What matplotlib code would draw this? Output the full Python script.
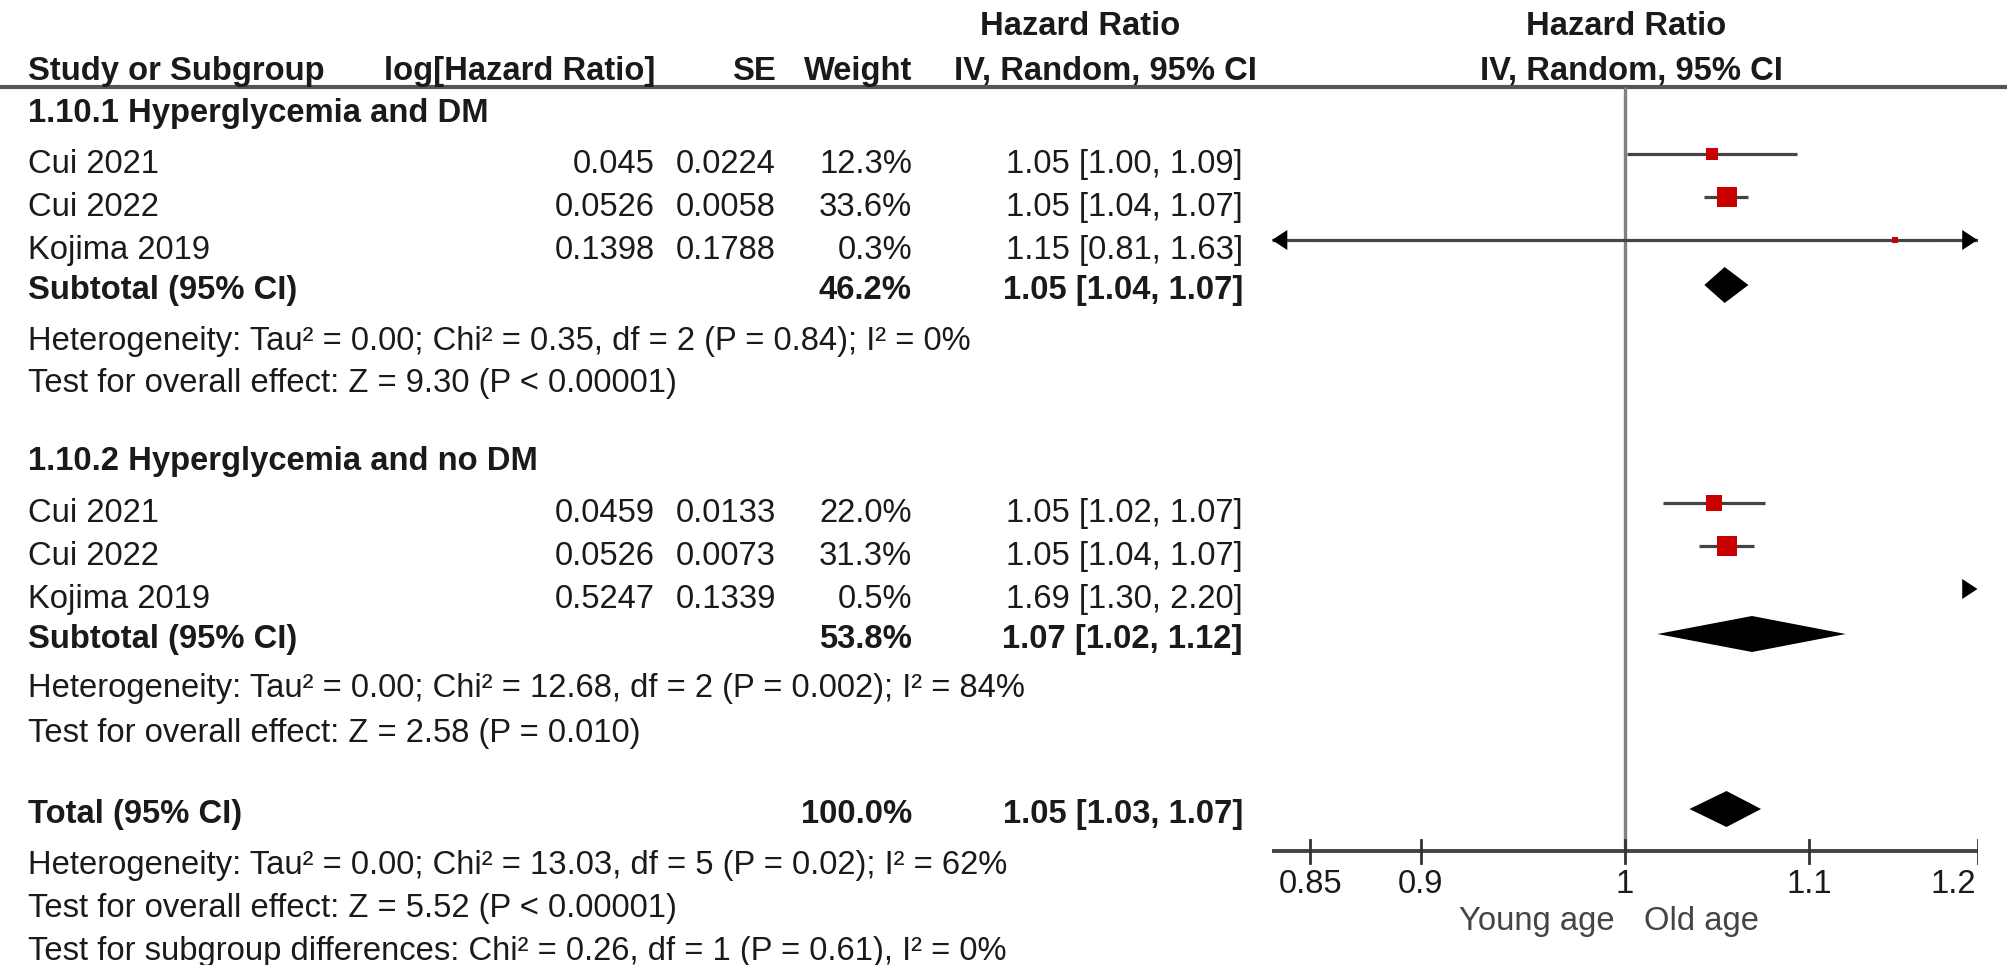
import matplotlib
matplotlib.use("Agg")
import matplotlib.pyplot as plt

plt.rcParams['font.family'] = ['Liberation Sans', 'DejaVu Sans']

# ---------------- data ----------------
group_titles = ["1.10.1 Hyperglycemia and DM", "1.10.2 Hyperglycemia and no DM"]

g1_studies = ["Cui 2021", "Cui 2022", "Kojima 2019"]
g1_loghr = [0.045, 0.0526, 0.1398]
g1_se = [0.0224, 0.0058, 0.1788]
g1_weight = [12.3, 33.6, 0.3]
g1_hr = [1.046, 1.054, 1.150]
g1_lo = [1.001, 1.042, 0.810]
g1_hi = [1.093, 1.066, 1.633]
g1_sub = (46.2, 1.053, 1.042, 1.066)  # weight, hr, lo, hi
g1_het = "Heterogeneity: Tau\u00b2 = 0.00; Chi\u00b2 = 0.35, df = 2 (P = 0.84); I\u00b2 = 0%"
g1_test = "Test for overall effect: Z = 9.30 (P < 0.00001)"

g2_studies = ["Cui 2021", "Cui 2022", "Kojima 2019"]
g2_loghr = [0.0459, 0.0526, 0.5247]
g2_se = [0.0133, 0.0073, 0.1339]
g2_weight = [22.0, 31.3, 0.5]
g2_hr = [1.047, 1.054, 1.690]
g2_lo = [1.020, 1.039, 1.300]
g2_hi = [1.075, 1.069, 2.197]
g2_sub = (53.8, 1.068, 1.017, 1.121)
g2_het = "Heterogeneity: Tau\u00b2 = 0.00; Chi\u00b2 = 12.68, df = 2 (P = 0.002); I\u00b2 = 84%"
g2_test = "Test for overall effect: Z = 2.58 (P = 0.010)"

total = (100.0, 1.054, 1.034, 1.073)
total_het = "Heterogeneity: Tau\u00b2 = 0.00; Chi\u00b2 = 13.03, df = 5 (P = 0.02); I\u00b2 = 62%"
total_test = "Test for overall effect: Z = 5.52 (P < 0.00001)"
subgroup_test = "Test for subgroup differences: Chi\u00b2 = 0.26, df = 1 (P = 0.61), I\u00b2 = 0%"

xticks = [0.85, 0.9, 1, 1.1, 1.2]
xtick_labels = ["0.85", "0.9", "1", "1.1", "1.2"]
xlim = (1 / 1.2, 1.2)
favours = ("Young age", "Old age")

# ---------------- layout (pixels) ----------------
W, H = 2008, 965
FS = 23.6
TXT = '#1a1a1a'
RED = '#C80000'
LINE = '#444444'

X_LEFT = 28
X_LOG = 655
X_SE = 776
X_W = 912
X_CI = 1243
PX0, PX1 = 1272, 1977.5

fig = plt.figure(figsize=(W / 100, H / 100), dpi=100)
ax = fig.add_axes([0, 0, 1, 1])
ax.set_xlim(0, W)
ax.set_ylim(H, 0)
ax.axis('off')

fx = fig.add_axes([PX0 / W, 0, (PX1 - PX0) / W, 1])
fx.set_xscale('log')
fx.set_xlim(*xlim)
fx.set_ylim(H, 0)
fx.axis('off')


def t(x, y, s, ha='left', bold=False, color=TXT, a=ax):
    a.text(x, y, s, ha=ha, va='baseline', fontsize=FS,
           fontweight='bold' if bold else 'normal', color=color)


def ci_str(hr, lo, hi):
    return f"{hr:.2f} [{lo:.2f}, {hi:.2f}]"


# header
t(1080, 35, "Hazard Ratio", ha='center', bold=True)
t(1626, 35, "Hazard Ratio", ha='center', bold=True)
t(X_LEFT, 80, "Study or Subgroup", bold=True)
t(X_LOG, 80, "log[Hazard Ratio]", ha='right', bold=True)
t(X_SE, 80, "SE", ha='right', bold=True)
t(X_W, 80, "Weight", ha='right', bold=True)
t(1257, 80, "IV, Random, 95% CI", ha='right', bold=True)
t(1631, 80, "IV, Random, 95% CI", ha='center', bold=True)
ax.plot([0, W], [87, 87], color='#555555', lw=3.0, solid_capstyle='butt')

# reference line at 1
fx.plot([1, 1], [87, 851], color='#808080', lw=2.4, solid_capstyle='butt', zorder=1)


def arrow_head(x_tip, x_from, y):
    fx.annotate('', xy=(x_tip, y), xytext=(x_from, y),
                arrowprops=dict(arrowstyle='-|>,head_length=0.55,head_width=0.36',
                                color='black', lw=0.01, shrinkA=0, shrinkB=0,
                                mutation_scale=20), zorder=4)


def study_rows(base_ys, studies, loghr, se, weight, hr, lo, hi):
    for i, y in enumerate(base_ys):
        t(X_LEFT, y, studies[i])
        t(X_LOG, y, str(loghr[i]), ha='right')
        t(X_SE, y, str(se[i]), ha='right')
        t(X_W, y, f"{weight[i]:.1f}%", ha='right')
        t(X_CI, y, ci_str(hr[i], lo[i], hi[i]), ha='right')
        my = y - 19
        l = max(lo[i], xlim[0])
        h = min(hi[i], xlim[1])
        if l < h:
            fx.plot([l, h], [my, my], color=LINE, lw=2.3, solid_capstyle='butt', zorder=2)
        if lo[i] < xlim[0] and hi[i] > xlim[0]:
            arrow_head(xlim[0], xlim[0] * 1.02, my)
        if hi[i] > xlim[1]:
            arrow_head(xlim[1], xlim[1] / 1.02, my)
        if xlim[0] <= hr[i] <= xlim[1]:
            side = max(3.6 * weight[i] ** 0.5, 5.5)
            fx.plot([hr[i]], [my], marker='s', markersize=side * 0.72,
                    color=RED, markeredgewidth=0, zorder=3)


def diamond(y, hr, lo, hi, half=18):
    fx.fill([lo, hr, hi, hr], [y, y - half, y, y + half], color='black',
            lw=0, zorder=3)


def summary_row(y, label, vals):
    w, hr, lo, hi = vals
    t(X_LEFT, y, label, bold=True)
    t(X_W, y, f"{w:.1f}%", ha='right', bold=True)
    t(X_CI, y, ci_str(hr, lo, hi), ha='right', bold=True)
    diamond(y - 14, hr, lo, hi)


# group 1
t(X_LEFT, 122, group_titles[0], bold=True)
study_rows([173, 216, 259], g1_studies, g1_loghr, g1_se, g1_weight, g1_hr, g1_lo, g1_hi)
summary_row(299, "Subtotal (95% CI)", g1_sub)
t(X_LEFT, 350, g1_het)
t(X_LEFT, 392, g1_test)

# group 2
t(X_LEFT, 470, group_titles[1], bold=True)
study_rows([522, 565, 608], g2_studies, g2_loghr, g2_se, g2_weight, g2_hr, g2_lo, g2_hi)
summary_row(648, "Subtotal (95% CI)", g2_sub)
t(X_LEFT, 697, g2_het)
t(X_LEFT, 742, g2_test)

# total
summary_row(823, "Total (95% CI)", total)
t(X_LEFT, 874, total_het)
t(X_LEFT, 917, total_test)
t(X_LEFT, 960, subgroup_test)

# axis
AXY = 851
fx.plot(list(xlim), [AXY, AXY], color='#444444', lw=2.8, solid_capstyle='butt', zorder=2)
for v, lab in zip(xticks, xtick_labels):
    fx.plot([v, v], [AXY - 11, AXY + 12], color='#333333', lw=2.0, zorder=2)
    ha = 'right' if v == xlim[1] else 'center'
    xx = v * 0.999 if ha == 'right' else v
    t(xx, 893, lab, ha=ha, a=fx)
t(0.995, 930, favours[0], ha='right', color='#444444', a=fx)
t(1.01, 930, favours[1], ha='left', color='#444444', a=fx)

fig.savefig("out.png", dpi=100)
